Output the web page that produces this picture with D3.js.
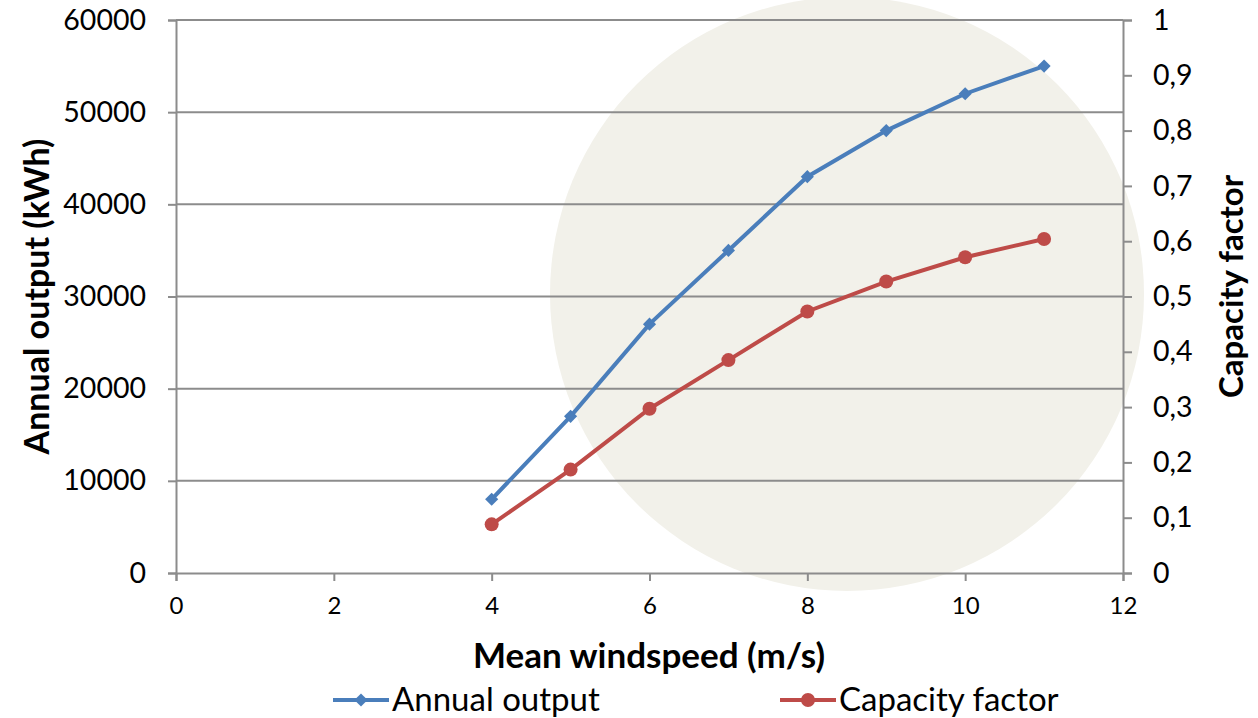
<!DOCTYPE html>
<html>
<head>
<meta charset="utf-8">
<script src="https://cdn.jsdelivr.net/npm/d3@7"></script>
<style>
  body { margin: 0; background: #fff; }
  text { font-family: Lato, "Open Sans", sans-serif; fill: #000; }
</style>
</head>
<body>
<div id="chart"></div>
<script>
// data
var windspeed = [4, 5, 6, 7, 8, 9, 10, 11];
var annualOutput = [8000, 17000, 27000, 35000, 43000, 48000, 52000, 55000];
var capacityFactor = [0.088, 0.187, 0.297, 0.385, 0.473, 0.527, 0.571, 0.604];
var xTicks = [0, 2, 4, 6, 8, 10, 12];
var leftTicks = [0, 10000, 20000, 30000, 40000, 50000, 60000];
var rightTicks = [0, 0.1, 0.2, 0.3, 0.4, 0.5, 0.6, 0.7, 0.8, 0.9, 1];

var svgWidth = 1258;
var svgHeight = 718;
var margin = { top: 20, right: 135, bottom: 145, left: 176 };
var width = svgWidth - margin.left - margin.right;
var height = svgHeight - margin.top - margin.bottom;

var svg = d3.select("#chart")
  .append("svg")
  .attr("width", svgWidth)
  .attr("height", svgHeight);

// background disc
svg.append("circle")
  .attr("cx", 847)
  .attr("cy", 294)
  .attr("r", 297)
  .attr("fill", "#f2f1ea");

var chartGroup = svg.append("g")
  .attr("transform", `translate(${margin.left}, ${margin.top})`);

var x = d3.scaleLinear().domain([0, 12]).range([0, width]);
var yLeft = d3.scaleLinear().domain([0, 60000]).range([height, 0]);
var yRight = d3.scaleLinear().domain([0, 1]).range([height, 0]);

var axisColor = "#8c8c8c";

// gridlines
chartGroup.selectAll(".grid")
  .data(leftTicks.slice(1))
  .enter()
  .append("line")
  .attr("x1", 0)
  .attr("x2", width)
  .attr("y1", d => yLeft(d))
  .attr("y2", d => yLeft(d))
  .attr("stroke", axisColor)
  .attr("stroke-width", 2);

function styleAxis(g, fontSize) {
  g.select(".domain").attr("stroke", axisColor).attr("stroke-width", 2);
  g.selectAll(".tick line").attr("stroke", axisColor).attr("stroke-width", 2);
  g.selectAll(".tick text").attr("font-size", fontSize).attr("fill", "#000")
    .style("font-family", "Lato, 'Open Sans', sans-serif");
}

var bottomAxis = d3.axisBottom(x).tickValues(xTicks).tickSizeOuter(0).tickSize(8).tickPadding(16);
chartGroup.append("g")
  .attr("transform", `translate(0, ${height})`)
  .call(bottomAxis)
  .call(g => styleAxis(g, "24px"));

var leftAxis = d3.axisLeft(yLeft).tickValues(leftTicks).tickFormat(d3.format("d"))
  .tickSizeOuter(0).tickSize(8).tickPadding(22);
chartGroup.append("g")
  .call(leftAxis)
  .call(g => styleAxis(g, "28.5px"));

var commaFmt = d => d === 0 ? "0" : d === 1 ? "1" : d3.format(".1f")(d).replace(".", ",");
var rightAxis = d3.axisRight(yRight).tickValues(rightTicks).tickFormat(commaFmt)
  .tickSizeOuter(0).tickSize(9).tickPadding(21);
chartGroup.append("g")
  .attr("transform", `translate(${width}, 0)`)
  .call(rightAxis)
  .call(g => styleAxis(g, "28.5px"));

// lines
var blue = "#4a7ebb";
var red = "#be4b48";
var pts = windspeed.map((w, i) => ({ w: w, out: annualOutput[i], cf: capacityFactor[i] }));

chartGroup.append("path")
  .datum(pts)
  .attr("fill", "none")
  .attr("stroke", blue)
  .attr("stroke-width", 4)
  .attr("d", d3.line().x(d => x(d.w)).y(d => yLeft(d.out)));

chartGroup.selectAll(".diamond")
  .data(pts)
  .enter()
  .append("path")
  .attr("transform", d => `translate(${x(d.w)}, ${yLeft(d.out)})`)
  .attr("d", d3.symbol(d3.symbolDiamond2, 110))
  .attr("fill", blue);

chartGroup.append("path")
  .datum(pts)
  .attr("fill", "none")
  .attr("stroke", red)
  .attr("stroke-width", 4)
  .attr("d", d3.line().x(d => x(d.w)).y(d => yRight(d.cf)));

chartGroup.selectAll(".dot")
  .data(pts)
  .enter()
  .append("circle")
  .attr("cx", d => x(d.w))
  .attr("cy", d => yRight(d.cf))
  .attr("r", 7)
  .attr("fill", red);

// axis titles
svg.append("text")
  .attr("transform", `translate(49, ${margin.top + height / 2}) rotate(-90)`)
  .attr("text-anchor", "middle")
  .attr("font-size", "34px")
  .attr("font-weight", "bold")
  .text("Annual output (kWh)");

svg.append("text")
  .attr("transform", `translate(1243, ${margin.top + height / 2 - 10}) rotate(-90)`)
  .attr("text-anchor", "middle")
  .attr("font-size", "33px")
  .attr("font-weight", "bold")
  .text("Capacity factor");

svg.append("text")
  .attr("x", 649)
  .attr("y", 668)
  .attr("text-anchor", "middle")
  .attr("font-size", "35px")
  .attr("font-weight", "bold")
  .text("Mean windspeed (m/s)");

// legend
var legend = [
  { label: "Annual output", color: blue, x: 333, shape: "diamond" },
  { label: "Capacity factor", color: red, x: 780, shape: "circle" }
];
var lg = svg.selectAll(".legend")
  .data(legend)
  .enter()
  .append("g")
  .attr("transform", d => `translate(${d.x}, 700)`);

lg.append("line")
  .attr("x1", 0).attr("x2", 56)
  .attr("stroke", d => d.color)
  .attr("stroke-width", 4);

lg.append("path")
  .attr("transform", "translate(28, 0)")
  .attr("d", d => d.shape === "diamond" ? d3.symbol(d3.symbolDiamond2, 110)() : d3.symbol(d3.symbolCircle, 154)())
  .attr("fill", d => d.color);

lg.append("text")
  .attr("x", 59)
  .attr("y", 11)
  .attr("font-size", "33px")
  .text(d => d.label);
</script>
</body>
</html>
